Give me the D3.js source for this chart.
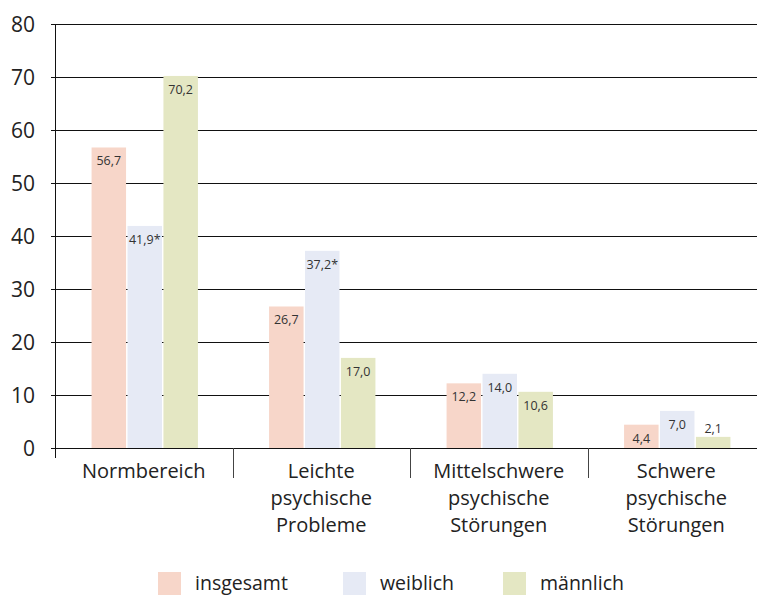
<!DOCTYPE html>
<html>
<head>
<meta charset="utf-8">
<script src="https://cdn.jsdelivr.net/npm/d3@7"></script>
<style>
  body { margin: 0; background: #fff; }
  svg { display: block; font-family: "Open Sans", "DejaVu Sans", sans-serif; }
</style>
</head>
<body>
<svg id="chart"></svg>
<script>
const categories = [
  ['Normbereich'],
  ['Leichte', 'psychische', 'Probleme'],
  ['Mittelschwere', 'psychische', 'Störungen'],
  ['Schwere', 'psychische', 'Störungen']
];
const seriesNames = ['insgesamt', 'weiblich', 'männlich'];
const insgesamt = [56.7, 26.7, 12.2, 4.4];
const weiblich = [41.9, 37.2, 14.0, 7.0];
const maennlich = [70.2, 17.0, 10.6, 2.1];
const starred = [[false, true, false], [false, true, false], [false, false, false], [false, false, false]];
const yTicks = [0, 10, 20, 30, 40, 50, 60, 70, 80];

const colors = ['#f7d6c9', '#e6eaf5', '#e4e7c3'];

const width = 757;
const height = 596;
const margin = { top: 24, right: -8, bottom: 148, left: 55 };

const svg = d3.select('#chart')
    .attr('width', width)
    .attr('height', height);

const catKeys = categories.map((c, i) => i);
const x0 = d3.scaleBand()
    .domain(catKeys)
    .range([margin.left, width - margin.right])
    .padding(0);

const x1 = d3.scaleBand()
    .domain([0, 1, 2])
    .range([0, x0.bandwidth()])
    .paddingInner(0.04)
    .paddingOuter(0.99);

const y = d3.scaleLinear()
    .domain([0, 80])
    .range([height - margin.bottom, margin.top]);

const series = [insgesamt, weiblich, maennlich];

// gridlines
svg.append('g')
  .selectAll('line')
  .data(yTicks.filter(d => d > 0))
  .join('line')
    .attr('x1', margin.left - 4)
    .attr('x2', width)
    .attr('y1', d => y(d) + 0.5)
    .attr('y2', d => y(d) + 0.5)
    .attr('stroke', '#111')
    .attr('stroke-width', 1);

// y labels
svg.append('g')
  .selectAll('text')
  .data(yTicks)
  .join('text')
    .attr('x', 35)
    .attr('y', d => y(d))
    .attr('dy', '0.36em')
    .attr('text-anchor', 'end')
    .attr('font-size', 21)
    .attr('fill', '#222')
    .text(d => d);

// bars
const groups = svg.append('g')
  .selectAll('g')
  .data(catKeys)
  .join('g')
    .attr('transform', i => `translate(${x0(i) + 1},0)`);

const bars = groups.selectAll('g')
  .data(i => series.map((s, j) => ({ cat: i, s: j, v: s[i], star: starred[i][j] })))
  .join('g');

bars.append('rect')
    .attr('x', d => x1(d.s))
    .attr('width', x1.bandwidth())
    .attr('y', d => y(d.v))
    .attr('height', d => y(0) - y(d.v))
    .attr('fill', d => colors[d.s]);

bars.append('text')
    .attr('x', d => x1(d.s) + x1.bandwidth() / 2)
    .attr('y', d => (y(0) - y(d.v) < 20) ? y(d.v) - 4 : y(d.v) + 18)
    .attr('text-anchor', 'middle')
    .attr('font-size', 12.5)
    .attr('fill', '#333')
    .text(d => d3.format('.1f')(d.v).replace('.', ',') + (d.star ? '*' : ''));

// x axis
svg.append('line')
    .attr('x1', margin.left - 4)
    .attr('x2', width)
    .attr('y1', y(0) + 0.5)
    .attr('y2', y(0) + 0.5)
    .attr('stroke', '#111');

svg.append('line')
    .attr('x1', margin.left + 0.5)
    .attr('x2', margin.left + 0.5)
    .attr('y1', y(80))
    .attr('y2', y(0) + 10)
    .attr('stroke', '#111');

svg.append('g')
  .selectAll('line')
  .data(catKeys.slice(1))
  .join('line')
    .attr('x1', i => Math.round(x0(i)) + 0.5)
    .attr('x2', i => Math.round(x0(i)) + 0.5)
    .attr('y1', y(0))
    .attr('y2', y(0) + 30)
    .attr('stroke', '#444');

const catLabels = svg.append('g')
  .selectAll('text')
  .data(catKeys)
  .join('text')
    .attr('x', i => x0(i) + x0.bandwidth() / 2)
    .attr('y', 478)
    .attr('text-anchor', 'middle')
    .attr('font-size', 20)
    .attr('fill', '#222');

catLabels.selectAll('tspan')
  .data(i => categories[i])
  .join('tspan')
    .attr('x', function() { return d3.select(this.parentNode).attr('x'); })
    .attr('dy', (d, k) => k === 0 ? 0 : 27)
    .text(d => d);

// legend
const legendX = [158, 343, 503];
const legend = svg.append('g')
  .selectAll('g')
  .data(seriesNames)
  .join('g')
    .attr('transform', (d, i) => `translate(${legendX[i]},572)`);

legend.append('rect')
    .attr('width', 23)
    .attr('height', 23)
    .attr('fill', (d, i) => colors[i]);

legend.append('text')
    .attr('x', 37)
    .attr('y', 18)
    .attr('font-size', 19.5)
    .attr('fill', '#222')
    .text(d => d);
</script>
</body>
</html>
